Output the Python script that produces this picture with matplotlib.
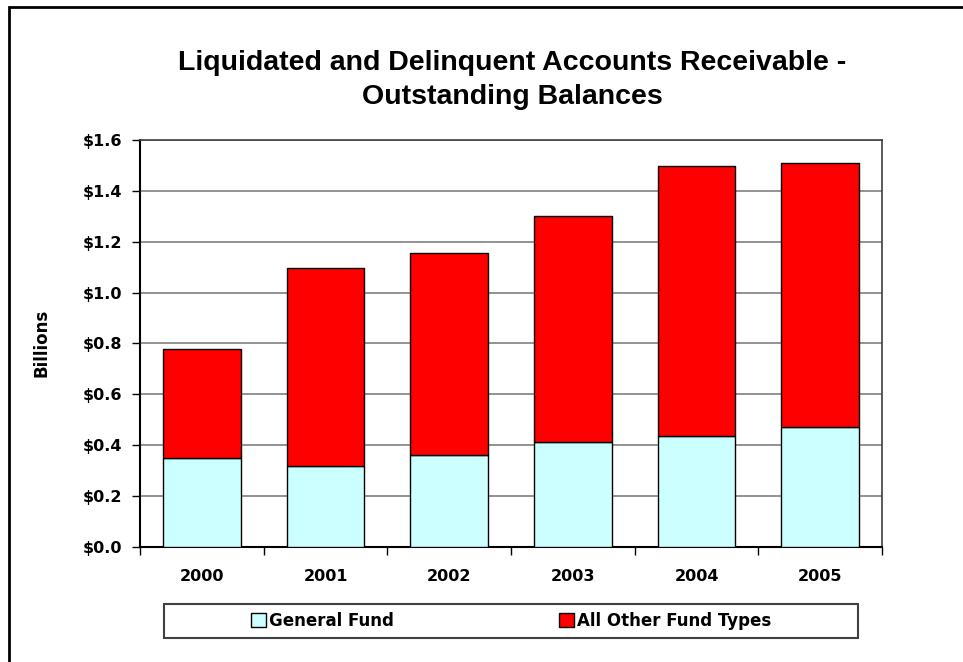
import matplotlib
matplotlib.use("Agg")
import matplotlib.pyplot as plt
from matplotlib.patches import Rectangle
from matplotlib.ticker import FuncFormatter, FixedLocator
import numpy as np

years = ["2000", "2001", "2002", "2003", "2004", "2005"]
general_fund = [0.350, 0.318, 0.362, 0.413, 0.437, 0.472]
all_other = [0.428, 0.778, 0.795, 0.887, 1.061, 1.039]
series_names = ["General Fund", "All Other Fund Types"]
title = "Liquidated and Delinquent Accounts Receivable -\nOutstanding Balances"
ylabel = "Billions"

plt.rcParams['font.family'] = ['DejaVu Sans']
plt.rcParams['font.weight'] = 'bold'

fig = plt.figure(figsize=(9.63, 6.62), dpi=100)
ax = fig.add_axes([140/963, 1-547/662, (882-140)/963, (547-140)/662])

x = np.arange(len(years))
w = 0.63
b1 = ax.bar(x, general_fund, w, color="#CCFFFF", edgecolor="black", linewidth=1, zorder=3,
            label=series_names[0])
b2 = ax.bar(x, all_other, w, bottom=general_fund, color="#FF0000", edgecolor="black",
            linewidth=1, zorder=3, label=series_names[1])

ax.set_xlim(-0.5, len(years) - 0.5)
ax.set_ylim(0, 1.6)
ax.set_yticks(np.arange(0, 1.61, 0.2))
ax.yaxis.set_major_formatter(FuncFormatter(lambda v, p: f"${v:.1f}"))
ax.grid(axis="y", color="#808080", linewidth=1.2, zorder=0)

ax.xaxis.set_major_locator(FixedLocator(np.arange(-0.5, len(years), 1.0)))
ax.xaxis.set_minor_locator(FixedLocator(x))
ax.set_xticklabels([""] * (len(years) + 1))
ax.set_xticklabels(years, minor=True)
ax.tick_params(axis="x", which="major", direction="out", length=6, width=1, color="black")
ax.tick_params(axis="x", which="minor", length=0, pad=16, labelsize=11.5)
ax.tick_params(axis="y", direction="out", length=6, width=1, labelsize=11.5, pad=7)
for lbl in ax.get_xticklabels(minor=True) + ax.get_yticklabels():
    lbl.set_fontweight("bold")

for side in ["left", "bottom"]:
    ax.spines[side].set_color("black")
    ax.spines[side].set_linewidth(1.5)
for side in ["top", "right"]:
    ax.spines[side].set_color("#404040")
    ax.spines[side].set_linewidth(1.2)

fig.text(42/963, 1-343/662, ylabel, rotation=90, ha="center", va="center",
         fontsize=12, fontweight="bold")
fig.text(512/963, 1-80/662, title, ha="center", va="center", fontsize=20.5,
         fontweight="bold", linespacing=1.38, family=["Liberation Sans", "DejaVu Sans"])

# Legend frame
fig.patches.append(Rectangle((164/963, 1-638/662), (858-164)/963, 34/662,
                             transform=fig.transFigure, fill=False,
                             edgecolor="#404040", linewidth=1.5))
leg = fig.legend(handles=[b1, b2], labels=series_names, loc="center",
                 bbox_to_anchor=(511/963, 1-621/662), ncol=2, frameon=False,
                 handlelength=0.9, handleheight=0.9, handletextpad=0.2,
                 columnspacing=9.9, prop={"weight": "bold", "size": 12})

# Outer chart border (top and left visible)
fig.patches.append(Rectangle((9/963, -0.05), 1.1, 1-7/662 + 0.05,
                             transform=fig.transFigure, fill=False,
                             edgecolor="black", linewidth=2))

fig.savefig("out.png", dpi=100, facecolor="white")
